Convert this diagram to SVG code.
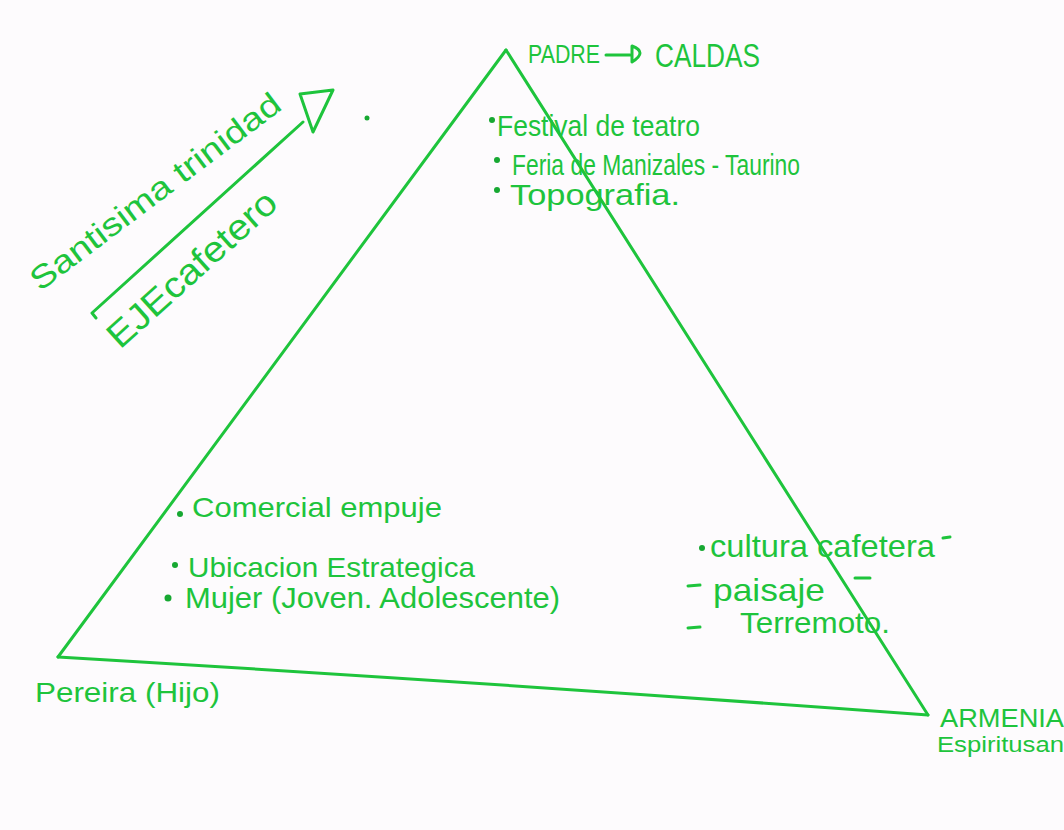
<svg xmlns="http://www.w3.org/2000/svg" width="1064" height="830" viewBox="0 0 1064 830">
  <style>
    .ink { fill: none; stroke: #1ec43c; stroke-width: 3; stroke-linecap: round; stroke-linejoin: round; }
    .hand { fill: #1ec43c; font-family: "Liberation Sans", "DejaVu Sans", sans-serif; }
    .dot { fill: #17a832; }
  </style>
  <rect x="0" y="0" width="1064" height="830" fill="#fdfbfd"/>

  <!-- triangle edges -->
  <g id="connectors">
    <path class="ink" d="M506 50 L58 657"/>
    <path class="ink" d="M506 50 L928 715"/>
    <path class="ink" d="M58 657 Q480 682 928 715"/>
  </g>

  <!-- side note: arrow with labels -->
  <g id="eje-cafetero">
    <path class="ink" d="M96 318 L92 313 L303 122"/>
    <path class="ink" d="M300 94 L333 90 L313 132 Z"/>
    <circle class="dot" cx="367" cy="118" r="2.5"/>
    <text class="hand" font-size="32" transform="translate(40 292) rotate(-37)" textLength="305" lengthAdjust="spacingAndGlyphs">Santisima trinidad</text>
    <text class="hand" font-size="36" transform="translate(120 350) rotate(-42)" textLength="215" lengthAdjust="spacingAndGlyphs">EJEcafetero</text>
  </g>

  <!-- apex -->
  <g id="padre-caldas">
    <text class="hand" x="528" y="63" font-size="26" textLength="72" lengthAdjust="spacingAndGlyphs">PADRE</text>
    <path class="ink" d="M606 55 L630 55 M632 46 Q648 52 632 62 Z"/>
    <text class="hand" x="655" y="67" font-size="34" textLength="105" lengthAdjust="spacingAndGlyphs">CALDAS</text>
    <circle class="dot" cx="492" cy="120" r="3"/>
    <text class="hand" x="497" y="136" font-size="30" textLength="203" lengthAdjust="spacingAndGlyphs">Festival de teatro</text>
    <circle class="dot" cx="497" cy="160" r="3"/>
    <text class="hand" x="512" y="175" font-size="30" textLength="288" lengthAdjust="spacingAndGlyphs">Feria de Manizales - Taurino</text>
    <circle class="dot" cx="497" cy="190" r="3"/>
    <text class="hand" x="510" y="205" font-size="30" textLength="170" lengthAdjust="spacingAndGlyphs">Topografia.</text>
  </g>

  <!-- bottom-left vertex -->
  <g id="pereira-hijo">
    <circle class="dot" cx="180" cy="514" r="3"/>
    <text class="hand" x="192" y="517" font-size="28" textLength="250" lengthAdjust="spacingAndGlyphs">Comercial empuje</text>
    <circle class="dot" cx="175" cy="565" r="3"/>
    <text class="hand" x="188" y="577" font-size="28" textLength="287" lengthAdjust="spacingAndGlyphs">Ubicacion Estrategica</text>
    <circle class="dot" cx="168" cy="598" r="3.5"/>
    <text class="hand" x="185" y="608" font-size="30" textLength="375" lengthAdjust="spacingAndGlyphs">Mujer (Joven. Adolescente)</text>
    <text class="hand" x="35" y="702" font-size="28" textLength="185" lengthAdjust="spacingAndGlyphs">Pereira (Hijo)</text>
  </g>

  <!-- bottom-right vertex -->
  <g id="armenia">
    <circle class="dot" cx="702" cy="548" r="3"/>
    <text class="hand" x="710" y="557" font-size="32" textLength="225" lengthAdjust="spacingAndGlyphs">cultura cafetera</text>
    <path class="ink" d="M943 538 L950 537"/>
    <path class="ink" d="M688 586 L700 585"/>
    <text class="hand" x="713" y="601" font-size="32" textLength="112" lengthAdjust="spacingAndGlyphs">paisaje</text>
    <path class="ink" d="M855 578 L870 578"/>
    <path class="ink" d="M688 628 L700 627"/>
    <text class="hand" x="740" y="633" font-size="30" textLength="150" lengthAdjust="spacingAndGlyphs">Terremoto.</text>
    <text class="hand" x="940" y="727" font-size="26" textLength="124" lengthAdjust="spacingAndGlyphs">ARMENIA</text>
    <text class="hand" x="937" y="752" font-size="22" textLength="127" lengthAdjust="spacingAndGlyphs">Espiritusan</text>
  </g>
</svg>
